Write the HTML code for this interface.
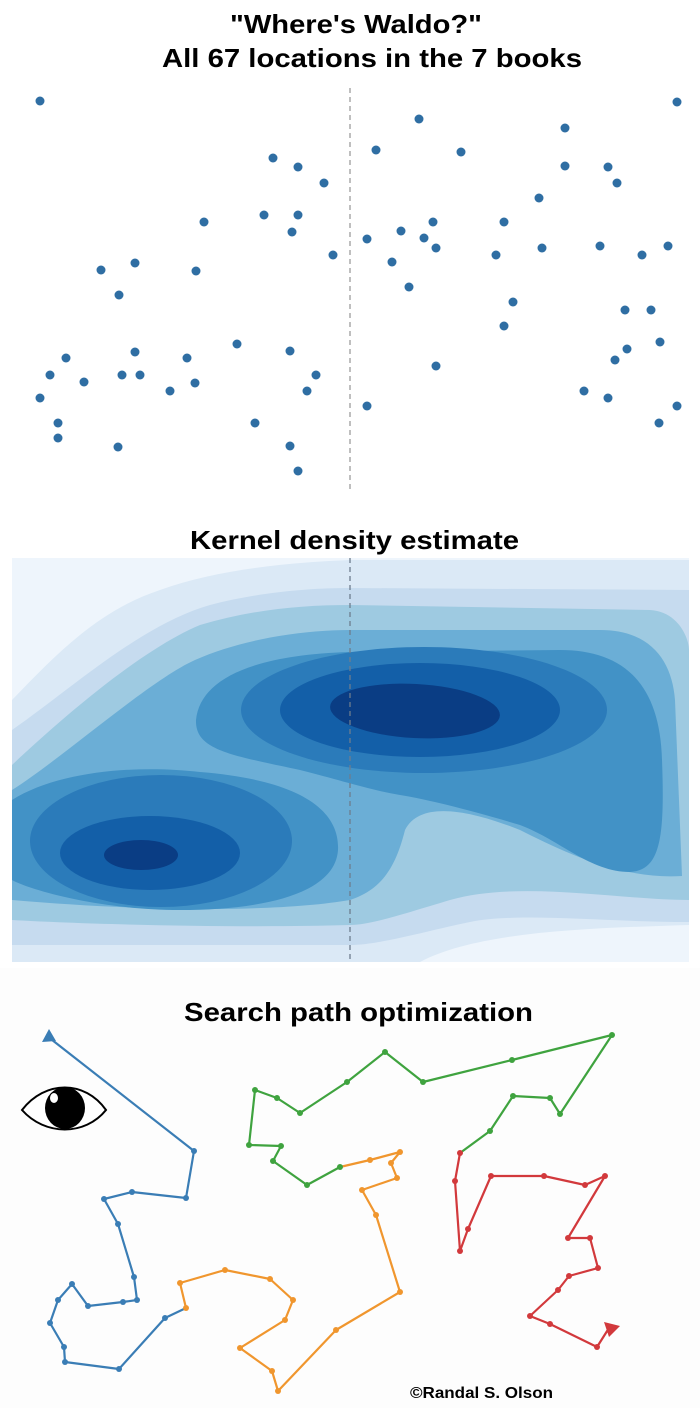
<!DOCTYPE html>
<html><head><meta charset="utf-8"><style>
html,body{margin:0;padding:0;background:#fff}
svg{display:block}
text{font-family:"Liberation Sans",Arial,sans-serif;font-weight:bold;fill:#000}
</style></head><body>
<svg width="700" height="1408" viewBox="0 0 700 1408" xmlns="http://www.w3.org/2000/svg">
<rect width="700" height="1408" fill="#fff"/>
<text x="230" y="33" font-size="26" textLength="252" lengthAdjust="spacingAndGlyphs">"Where's Waldo?"</text>
<text x="162" y="67" font-size="26" textLength="420" lengthAdjust="spacingAndGlyphs">All 67 locations in the 7 books</text>
<line x1="350" y1="88" x2="350" y2="490" stroke="#aaa" stroke-width="1.5" stroke-dasharray="5,4"/>
<g fill="#2f6ea3">
<circle cx="40" cy="101" r="4.5"/><circle cx="419" cy="119" r="4.5"/><circle cx="677" cy="102" r="4.5"/><circle cx="376" cy="150" r="4.5"/><circle cx="461" cy="152" r="4.5"/><circle cx="565" cy="128" r="4.5"/><circle cx="273" cy="158" r="4.5"/><circle cx="298" cy="167" r="4.5"/><circle cx="565" cy="166" r="4.5"/><circle cx="608" cy="167" r="4.5"/><circle cx="324" cy="183" r="4.5"/><circle cx="617" cy="183" r="4.5"/><circle cx="539" cy="198" r="4.5"/><circle cx="264" cy="215" r="4.5"/><circle cx="298" cy="215" r="4.5"/><circle cx="204" cy="222" r="4.5"/><circle cx="292" cy="232" r="4.5"/><circle cx="433" cy="222" r="4.5"/><circle cx="401" cy="231" r="4.5"/><circle cx="504" cy="222" r="4.5"/><circle cx="367" cy="239" r="4.5"/><circle cx="424" cy="238" r="4.5"/><circle cx="436" cy="248" r="4.5"/><circle cx="542" cy="248" r="4.5"/><circle cx="600" cy="246" r="4.5"/><circle cx="668" cy="246" r="4.5"/><circle cx="333" cy="255" r="4.5"/><circle cx="496" cy="255" r="4.5"/><circle cx="642" cy="255" r="4.5"/><circle cx="135" cy="263" r="4.5"/><circle cx="101" cy="270" r="4.5"/><circle cx="196" cy="271" r="4.5"/><circle cx="392" cy="262" r="4.5"/><circle cx="409" cy="287" r="4.5"/><circle cx="119" cy="295" r="4.5"/><circle cx="513" cy="302" r="4.5"/><circle cx="625" cy="310" r="4.5"/><circle cx="651" cy="310" r="4.5"/><circle cx="504" cy="326" r="4.5"/><circle cx="237" cy="344" r="4.5"/><circle cx="660" cy="342" r="4.5"/><circle cx="66" cy="358" r="4.5"/><circle cx="135" cy="352" r="4.5"/><circle cx="187" cy="358" r="4.5"/><circle cx="290" cy="351" r="4.5"/><circle cx="627" cy="349" r="4.5"/><circle cx="615" cy="360" r="4.5"/><circle cx="436" cy="366" r="4.5"/><circle cx="50" cy="375" r="4.5"/><circle cx="122" cy="375" r="4.5"/><circle cx="140" cy="375" r="4.5"/><circle cx="316" cy="375" r="4.5"/><circle cx="84" cy="382" r="4.5"/><circle cx="195" cy="383" r="4.5"/><circle cx="170" cy="391" r="4.5"/><circle cx="307" cy="391" r="4.5"/><circle cx="584" cy="391" r="4.5"/><circle cx="40" cy="398" r="4.5"/><circle cx="608" cy="398" r="4.5"/><circle cx="367" cy="406" r="4.5"/><circle cx="677" cy="406" r="4.5"/><circle cx="58" cy="423" r="4.5"/><circle cx="255" cy="423" r="4.5"/><circle cx="659" cy="423" r="4.5"/><circle cx="58" cy="438" r="4.5"/><circle cx="118" cy="447" r="4.5"/><circle cx="290" cy="446" r="4.5"/><circle cx="298" cy="471" r="4.5"/>
</g>

<text x="190" y="549" font-size="26" textLength="329" lengthAdjust="spacingAndGlyphs">Kernel density estimate</text>
<defs><clipPath id="kc"><rect x="12" y="558" width="677" height="404"/></clipPath></defs>
<g clip-path="url(#kc)">
<rect x="12" y="558" width="677" height="404" fill="#eef5fc"/>
<path fill="#dbe9f6" d="M12,700 C60,650 100,610 160,590 C220,568 300,562 350,560 L689,560 L689,925 C600,928 480,930 420,962 L12,962 Z"/>
<path fill="#c6dbef" d="M12,730 C70,690 140,625 210,605 C260,592 310,588 350,588 L689,590 L689,922 C600,922 520,912 470,922 C430,930 380,945 350,945 L12,945 Z"/>
<path fill="#9ecae1" d="M12,765 C60,720 140,650 200,625 C250,610 300,605 350,605 L650,610 C680,612 689,640 689,650 L689,900 C620,900 520,880 450,900 C400,915 370,925 350,925 C250,928 100,925 12,920 Z"/>
<path fill="#6baed6" d="M12,790 C60,760 150,680 195,660 C240,640 300,630 350,630 L600,630 C650,630 672,660 675,700 L682,876 C620,880 560,850 520,830 C470,810 420,800 405,830 C395,870 380,890 350,900 C280,912 150,912 12,900 Z"/>
<path fill="#4292c6" d="M196,720 C200,680 250,655 350,652 L560,650 C620,650 660,680 662,760 C665,840 660,870 630,872 C590,872 560,840 520,825 C470,810 430,800 400,795 C370,790 340,780 300,770 C230,755 195,750 196,720 Z"/>
<path fill="#4292c6" d="M12,800 C60,770 140,765 200,772 C300,780 340,810 338,850 C335,895 260,910 180,910 C100,910 30,890 12,880 Z"/>
<ellipse cx="424" cy="710" rx="183" ry="63" fill="#2b7bba"/>
<ellipse cx="161" cy="841" rx="131" ry="66" fill="#2b7bba"/>
<ellipse cx="420" cy="710" rx="140" ry="47" fill="#135fa8"/>
<ellipse cx="150" cy="853" rx="90" ry="37" fill="#135fa8"/>
<ellipse cx="415" cy="711" rx="85" ry="27" fill="#0a3d84" transform="rotate(3 415 711)"/>
<ellipse cx="141" cy="855" rx="37" ry="15" fill="#0a3d84"/>
<line x1="350" y1="558" x2="350" y2="962" stroke="#6d7d8e" stroke-width="1.3" stroke-dasharray="5,4"/>
</g>

<rect x="0" y="968" width="700" height="440" fill="#fdfdfd"/>
<text x="184" y="1021" font-size="26" textLength="349" lengthAdjust="spacingAndGlyphs">Search path optimization</text>
<g fill="none" stroke-width="2.2" stroke-linejoin="round">
<polyline stroke="#3a7db5" points="47,1036 194,1151 186,1198 132,1192 104,1199 118,1224 134,1277 137,1300 123,1302 88,1306 72,1284 58,1300 50,1323 64,1347 65,1362 119,1369 165,1318 186,1308"/>
<polyline stroke="#f0962e" points="186,1308 180,1283 225,1270 270,1279 293,1300 285,1320 240,1348 272,1371 278,1391 336,1330 400,1292 376,1215 362,1190 397,1178 391,1163 400,1152 370,1160 340,1167"/>
<polyline stroke="#3fa33f" points="340,1167 307,1185 273,1161 281,1146 249,1145 255,1090 277,1098 300,1113 347,1082 385,1052 423,1082 512,1060 612,1035 560,1114 550,1098 513,1096 490,1131 460,1153"/>
<polyline stroke="#d2393c" points="460,1153 455,1181 460,1251 468,1229 491,1176 544,1176 585,1185 605,1176 568,1238 590,1238 598,1268 569,1276 558,1290 530,1316 550,1324 597,1347 609,1328"/>
</g>
<g fill="#3a7db5"><circle cx="194" cy="1151" r="3"/><circle cx="186" cy="1198" r="3"/><circle cx="132" cy="1192" r="3"/><circle cx="104" cy="1199" r="3"/><circle cx="118" cy="1224" r="3"/><circle cx="134" cy="1277" r="3"/><circle cx="137" cy="1300" r="3"/><circle cx="123" cy="1302" r="3"/><circle cx="88" cy="1306" r="3"/><circle cx="72" cy="1284" r="3"/><circle cx="58" cy="1300" r="3"/><circle cx="50" cy="1323" r="3"/><circle cx="64" cy="1347" r="3"/><circle cx="65" cy="1362" r="3"/><circle cx="119" cy="1369" r="3"/><circle cx="165" cy="1318" r="3"/>
<polygon points="42,1042 56,1041 49,1029"/></g>
<g fill="#f0962e"><circle cx="186" cy="1308" r="3"/><circle cx="180" cy="1283" r="3"/><circle cx="225" cy="1270" r="3"/><circle cx="270" cy="1279" r="3"/><circle cx="293" cy="1300" r="3"/><circle cx="285" cy="1320" r="3"/><circle cx="240" cy="1348" r="3"/><circle cx="272" cy="1371" r="3"/><circle cx="278" cy="1391" r="3"/><circle cx="336" cy="1330" r="3"/><circle cx="400" cy="1292" r="3"/><circle cx="376" cy="1215" r="3"/><circle cx="362" cy="1190" r="3"/><circle cx="397" cy="1178" r="3"/><circle cx="391" cy="1163" r="3"/><circle cx="400" cy="1152" r="3"/><circle cx="370" cy="1160" r="3"/></g>
<g fill="#3fa33f"><circle cx="340" cy="1167" r="3"/><circle cx="307" cy="1185" r="3"/><circle cx="273" cy="1161" r="3"/><circle cx="281" cy="1146" r="3"/><circle cx="249" cy="1145" r="3"/><circle cx="255" cy="1090" r="3"/><circle cx="277" cy="1098" r="3"/><circle cx="300" cy="1113" r="3"/><circle cx="347" cy="1082" r="3"/><circle cx="385" cy="1052" r="3"/><circle cx="423" cy="1082" r="3"/><circle cx="512" cy="1060" r="3"/><circle cx="612" cy="1035" r="3"/><circle cx="560" cy="1114" r="3"/><circle cx="550" cy="1098" r="3"/><circle cx="513" cy="1096" r="3"/><circle cx="490" cy="1131" r="3"/></g>
<g fill="#d2393c"><circle cx="460" cy="1153" r="3"/><circle cx="455" cy="1181" r="3"/><circle cx="460" cy="1251" r="3"/><circle cx="468" cy="1229" r="3"/><circle cx="491" cy="1176" r="3"/><circle cx="544" cy="1176" r="3"/><circle cx="585" cy="1185" r="3"/><circle cx="605" cy="1176" r="3"/><circle cx="568" cy="1238" r="3"/><circle cx="590" cy="1238" r="3"/><circle cx="598" cy="1268" r="3"/><circle cx="569" cy="1276" r="3"/><circle cx="558" cy="1290" r="3"/><circle cx="530" cy="1316" r="3"/><circle cx="550" cy="1324" r="3"/><circle cx="597" cy="1347" r="3"/>
<polygon points="604,1322 620,1326 609,1337"/></g>
<path d="M22,1110 C45,1080 85,1080 106,1110 C85,1136 45,1136 22,1110 Z" fill="#fff" stroke="#000" stroke-width="2"/>
<ellipse cx="65" cy="1108" rx="20" ry="21" fill="#000"/>
<ellipse cx="54" cy="1098" rx="4" ry="5" fill="#fff"/>
<text x="410" y="1398" font-size="16" textLength="143" lengthAdjust="spacingAndGlyphs">©Randal S. Olson</text>
</svg>
</body></html>
